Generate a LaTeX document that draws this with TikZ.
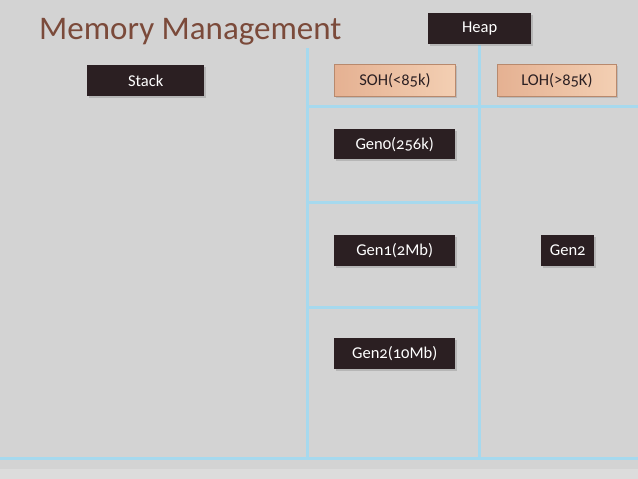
\documentclass[tikz,border=0pt]{standalone}
\usepackage{fontspec}
\setmainfont{Carlito}[Numbers=OldStyle]
\usetikzlibrary{shadows}
\definecolor{bg}{HTML}{D3D3D3}
\definecolor{bgl}{HTML}{DCDCDC}
\definecolor{gridblue}{HTML}{A6D9EE}
\definecolor{darkbox}{HTML}{2B1F22}
\definecolor{peachL}{HTML}{E5B192}
\definecolor{peachR}{HTML}{F3CFB3}
\definecolor{peachB}{HTML}{B8896D}
\definecolor{titlec}{HTML}{7B4A3A}
\tikzset{
  x=1pt,y=-1pt,
  gridline/.style={gridblue,line width=3pt},
  darknode/.style={fill=darkbox,text=white,minimum height=31pt,inner sep=0pt,anchor=north west,
    font=\fontsize{16.5}{19}\selectfont,
    drop shadow={opacity=0.35,shadow xshift=1.5pt,shadow yshift=-1.5pt}},
  peachnode/.style={left color=peachL,right color=peachR,draw=peachB,line width=0.8pt,text=darkbox,
    minimum height=32pt,inner sep=0pt,anchor=north west,
    font=\fontsize{16.5}{19}\selectfont,
    drop shadow={opacity=0.3,shadow xshift=1.5pt,shadow yshift=-1.5pt}},
}
\begin{document}
\begin{tikzpicture}
\fill[bg] (0,0) rectangle (638,479);
\fill[bgl] (0,469) rectangle (638,479);
\useasboundingbox (0,0) rectangle (638,479);
% grid coordinates
\coordinate (vl1) at (307,48);
\coordinate (vl1b) at (307,458);
\coordinate (vl2) at (479,45);
\coordinate (vl2b) at (479,458);
\coordinate (h1a) at (307,106);
\coordinate (h1b) at (638,106);
\coordinate (h2a) at (307,202);
\coordinate (h2b) at (479,202);
\coordinate (h3a) at (307,307);
\coordinate (h3b) at (479,307);
\coordinate (h4a) at (0,458);
\coordinate (h4b) at (638,458);
\draw[gridline] (vl1) -- (vl1b);
\draw[gridline] (vl2) -- (vl2b);
\draw[gridline] (h1a) -- (h1b);
\draw[gridline] (h2a) -- (h2b);
\draw[gridline] (h3a) -- (h3b);
\draw[gridline] (h4a) -- (h4b);
% title
\node[anchor=base west,inner sep=0pt,text=titlec,font=\fontsize{33}{37}\selectfont] (title) at (39,39) {Memory Management};
% boxes
\node[darknode,minimum width=103pt] (heap) at (428,13) {Heap};
\node[darknode,minimum width=117pt] (stack) at (87,65) {Stack};
\node[peachnode,minimum width=121pt] (soh) at (334,64) {SOH(<85k)};
\node[peachnode,minimum width=119pt] (loh) at (497,64) {LOH(>85K)};
\node[darknode,minimum width=121pt,minimum height=30pt] (gen0) at (334,129) {Gen0(256k)};
\node[darknode,minimum width=121pt] (gen1) at (334,235) {Gen1(2Mb)};
\node[darknode,minimum width=53pt] (gen2r) at (541,235) {Gen2};
\node[darknode,minimum width=121pt] (gen2) at (334,338) {Gen2(10Mb)};
\end{tikzpicture}
\end{document}
